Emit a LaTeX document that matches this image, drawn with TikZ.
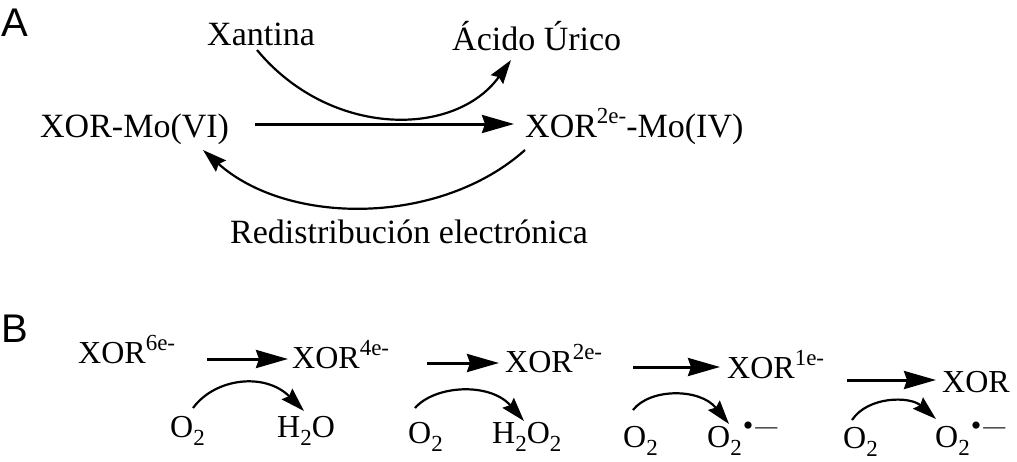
\documentclass[tikz,border=0pt]{standalone}
\usepackage{fontspec}
\setmainfont{Liberation Serif}
\newfontfamily\labfont{Liberation Sans}
\usetikzlibrary{arrows.meta}
\newcommand{\supx}[1]{\raisebox{0.40em}{\fontsize{23}{23}\selectfont #1}}
\newcommand{\subx}[1]{\raisebox{-0.28em}{\fontsize{23}{23}\selectfont #1}}
\newcommand{\radx}{\raisebox{0.36em}{\fontsize{30}{30}\selectfont\kern1pt•}\raisebox{0.42em}{\fontsize{22}{22}\selectfont\kern2pt—}}
\begin{document}
\begin{tikzpicture}[x=1pt,y=-1pt,
  txa/.style={inner sep=0pt, anchor=base west, font=\fontsize{34}{40}\selectfont},
  txb/.style={inner sep=0pt, anchor=base west, font=\fontsize{32}{38}\selectfont},
  panel/.style={inner sep=0pt, anchor=base west, font=\labfont\fontsize{40}{44}\selectfont},
  arr/.style={line width=3pt, -{Stealth[length=32pt,width=18pt,inset=3pt]}},
  carr/.style={line width=2.2pt, -{Stealth[length=24pt,width=15pt,inset=3pt]}},
  ]
\useasboundingbox (0,0) rectangle (1017,461);
% Panel A
\node[panel] (pa) at (1,36) {A};
\node[txa] (xan) at (207,45) {Xantina};
\node[txa] (uric) at (452,50) {Ácido Úrico};
\node[txa] (mo6) at (40,137) {XOR-Mo(VI)};
\node[txa] (mo4) at (525,137) {XOR\supx{2e-}-Mo(IV)};
\node[txa] (redis) at (230,243) {Redistribución electrónica};
\coordinate (m1) at (255,124);
\coordinate (m2) at (514,124);
\coordinate (x1) at (257,50);
\coordinate (x2) at (511,60);
\coordinate (r1) at (525,150);
\coordinate (r2) at (203,150);
\draw[arr] (m1) -- (m2);
\draw[carr] (x1) .. controls (330,138) and (455,138) .. (x2);
\draw[carr] (r1) .. controls (440,226) and (288,226) .. (r2);
% Panel B
\node[panel] (pb) at (1,342) {B};
\node[txb] (e6) at (78,363) {XOR\supx{6e-}};
\node[txb] (e4) at (292,368) {XOR\supx{4e-}};
\node[txb] (e2) at (505,372) {XOR\supx{2e-}};
\node[txb] (e1) at (727,378) {XOR\supx{1e-}};
\node[txb] (e0) at (942,392) {XOR};
\node[txb] (o1) at (170,437) {O\subx{2}};
\node[txb] (h1) at (277,437) {H\subx{2}O};
\node[txb] (o2) at (408,443) {O\subx{2}};
\node[txb] (h2) at (492,443) {H\subx{2}O\subx{2}};
\node[txb] (o3) at (623,447) {O\subx{2}};
\node[txb] (s3) at (707,447) {O\subx{2}\radx};
\node[txb] (o4) at (843,448) {O\subx{2}};
\node[txb] (s4) at (935,447) {O\subx{2}\radx};
\coordinate (b1s) at (207,359); \coordinate (b1e) at (288,359);
\coordinate (b2s) at (427,363); \coordinate (b2e) at (499,363);
\coordinate (b3s) at (633,367); \coordinate (b3e) at (720,367);
\coordinate (b4s) at (847,380); \coordinate (b4e) at (936,380);
\draw[arr] (b1s) -- (b1e);
\draw[arr] (b2s) -- (b2e);
\draw[arr] (b3s) -- (b3e);
\draw[arr] (b4s) -- (b4e);
\coordinate (c1s) at (193,408); \coordinate (c1e) at (304,411);
\coordinate (c2s) at (415,408); \coordinate (c2e) at (524,421);
\coordinate (c3s) at (633,410); \coordinate (c3e) at (729,424);
\coordinate (c4s) at (852,420); \coordinate (c4e) at (936,419);
\draw[carr] (c1s) .. controls (215,378) and (265,372) .. (c1e);
\draw[carr] (c2s) .. controls (435,385) and (490,382) .. (c2e);
\draw[carr] (c3s) .. controls (650,388) and (700,388) .. (c3e);
\draw[carr] (c4s) .. controls (868,396) and (910,396) .. (c4e);
\end{tikzpicture}
\end{document}
